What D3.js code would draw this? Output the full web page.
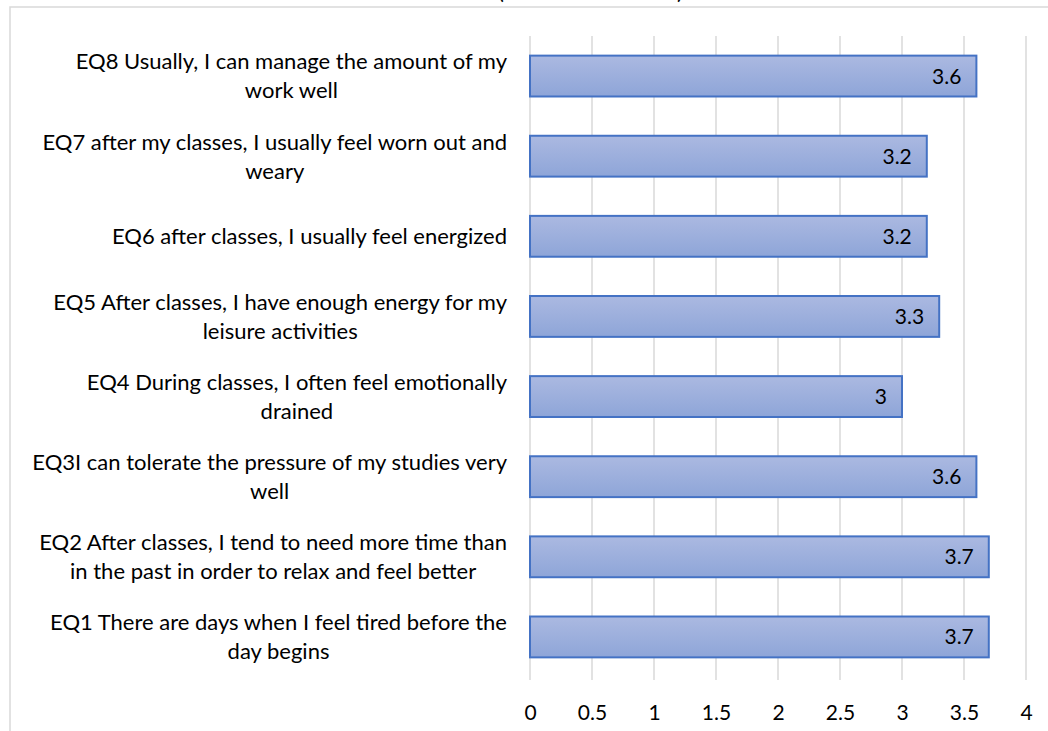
<!DOCTYPE html>
<html>
<head>
<meta charset="utf-8">
<script src="https://cdn.jsdelivr.net/npm/d3@7"></script>
<style>
  body { margin: 0; background: #fff; }
  text { font-family: Lato, "Open Sans", sans-serif; fill: #000; }
</style>
</head>
<body>
<script>
// categories, top to bottom, already broken into lines as in the chart
var questions = ["EQ8", "EQ7", "EQ6", "EQ5", "EQ4", "EQ3", "EQ2", "EQ1"];
var labels = [
  ["EQ8 Usually, I can manage the amount of my", "work well"],
  ["EQ7 after my classes, I usually feel worn out and", "weary"],
  ["EQ6 after classes, I usually feel energized"],
  ["EQ5 After classes, I have enough energy for my", "leisure activities"],
  ["EQ4 During classes, I often feel emotionally", "drained"],
  ["EQ3I can tolerate the pressure of my studies very", "well"],
  ["EQ2 After classes, I tend to need more time than", "in the past in order to relax and feel better"],
  ["EQ1 There are days when I feel tired before the", "day begins"]
];
var scores = [3.6, 3.2, 3.2, 3.3, 3, 3.6, 3.7, 3.7];
var ticks = [0, 0.5, 1, 1.5, 2, 2.5, 3, 3.5, 4];

var W = 1048, H = 731;
var plotL = 530, plotR = 1026, plotT = 36, plotB = 677;

var svg = d3.select("body").append("svg")
    .attr("width", W)
    .attr("height", H);

var grad = svg.append("defs").append("linearGradient")
    .attr("id", "barfill")
    .attr("x1", 0).attr("y1", 0).attr("x2", 0).attr("y2", 1);
grad.append("stop").attr("offset", "0%").attr("stop-color", "#abb9e1");
grad.append("stop").attr("offset", "100%").attr("stop-color", "#8ea5d8");

// chart area frame (runs off the picture on the right and bottom)
svg.append("rect")
    .attr("x", 10).attr("y", 7)
    .attr("width", W + 20).attr("height", H + 20)
    .attr("fill", "none")
    .attr("stroke", "#d9d9d9")
    .attr("stroke-width", 1.5);

// what is left of the cut-off title
svg.append("text").attr("x", 501).attr("y", -1).attr("text-anchor", "middle")
    .style("font-size", "22px").text("(");
svg.append("text").attr("x", 680).attr("y", -1).attr("text-anchor", "middle")
    .style("font-size", "22px").text(")");

var x = d3.scaleLinear().domain([0, 4]).range([plotL, plotR]);
var y = d3.scaleBand().domain(questions).range([plotT, plotB]).paddingInner(0.49).paddingOuter(0.245);

// gridlines
svg.append("g").selectAll("line")
    .data(ticks)
    .enter()
    .append("line")
    .attr("x1", d => x(d)).attr("x2", d => x(d))
    .attr("y1", plotT).attr("y2", 680)
    .attr("stroke", "#d9d9d9")
    .attr("stroke-width", 1.5);

// x axis: labels only
var xAxis = svg.append("g")
    .attr("transform", "translate(0," + 705 + ")")
    .call(d3.axisBottom(x).tickValues(ticks).tickSize(0).tickPadding(0).tickFormat(d3.format("")));
xAxis.select(".domain").remove();
xAxis.selectAll("text")
    .style("font-family", "Lato, 'Open Sans', sans-serif")
    .style("font-size", "21px")
    .attr("fill", "#000");

// bars
svg.append("g").selectAll("rect")
    .data(scores)
    .enter()
    .append("rect")
    .attr("x", x(0))
    .attr("y", (d, i) => y(questions[i]))
    .attr("width", d => x(d) - x(0))
    .attr("height", y.bandwidth())
    .attr("fill", "url(#barfill)")
    .attr("stroke", "#4472c4")
    .attr("stroke-width", 2);

// value labels inside end
svg.append("g").selectAll("text")
    .data(scores)
    .enter()
    .append("text")
    .attr("x", d => x(d) - 15)
    .attr("y", (d, i) => y(questions[i]) + y.bandwidth() / 2)
    .attr("dy", "0.36em")
    .attr("text-anchor", "end")
    .style("font-size", "21px")
    .text(d => d);

// category labels, lines centred on each other, block right-aligned
var lineH = 29, blockRight = 507;
labels.forEach(function (lines, i) {
  var cy = y(questions[i]) + y.bandwidth() / 2;
  var g = svg.append("g");
  var t = g.selectAll("text")
      .data(lines)
      .enter()
      .append("text")
      .attr("y", (d, j) => cy + (j - (lines.length - 1) / 2) * lineH)
      .attr("dy", "0.36em")
      .attr("text-anchor", "middle")
      .style("font-size", "22px")
      .text(d => d);
  var maxW = d3.max(t.nodes(), n => n.getComputedTextLength());
  t.attr("x", blockRight - maxW / 2);
});
</script>
</body>
</html>
